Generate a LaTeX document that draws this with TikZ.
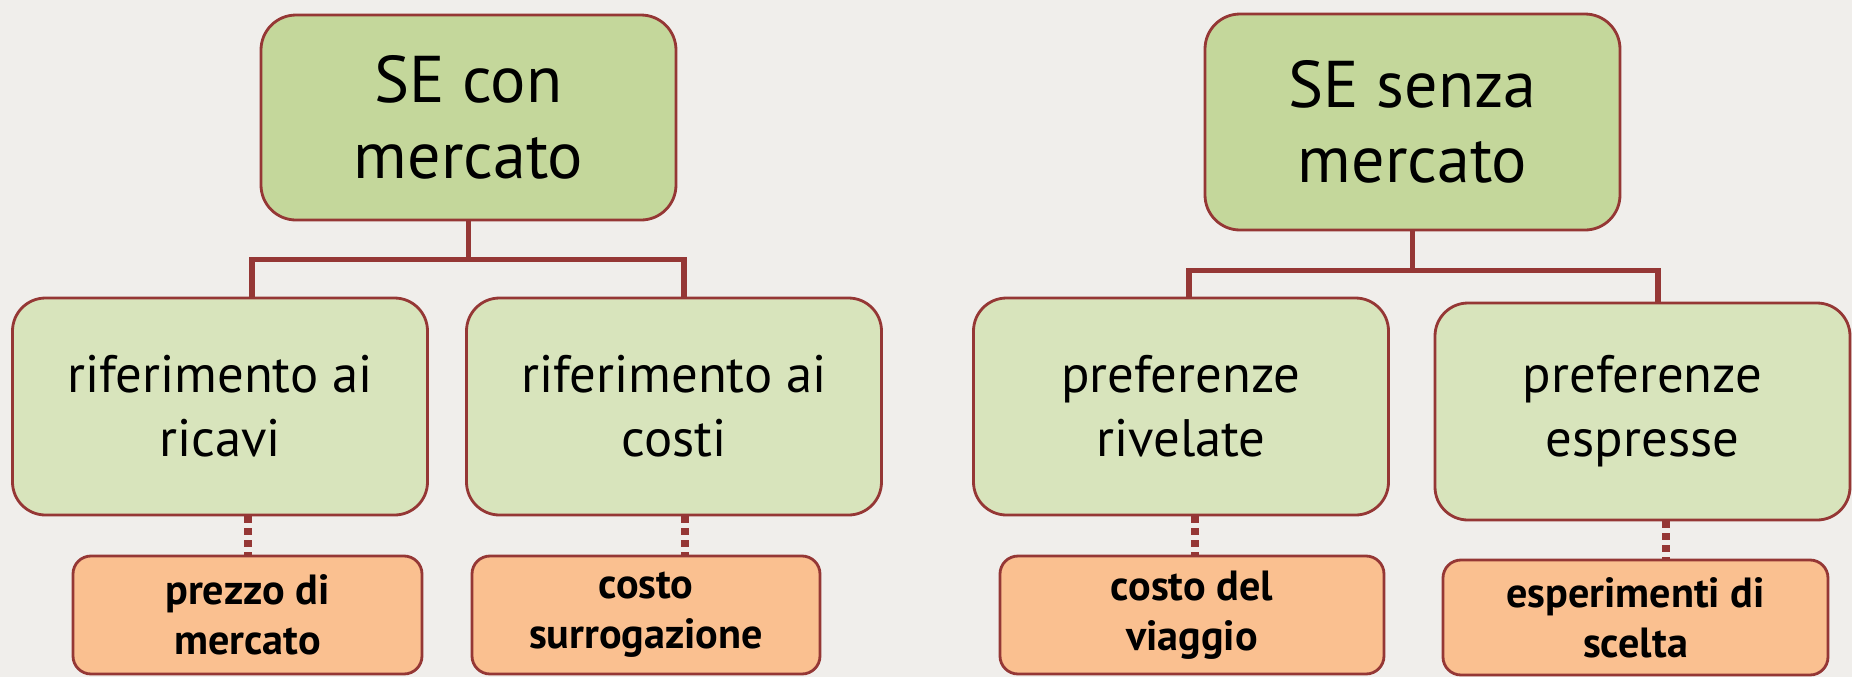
\documentclass[tikz,border=0pt]{standalone}
\usepackage{fontspec}
\setmainfont{PT Sans}
\usepackage{xcolor}
\usetikzlibrary{shapes,arrows,positioning,fit,backgrounds}

\definecolor{bordo}{RGB}{149,55,53}
\definecolor{verdescuro}{RGB}{196,215,155}
\definecolor{verdechiaro}{RGB}{216,228,188}
\definecolor{arancio}{RGB}{250,192,144}
\definecolor{sfondo}{RGB}{240,238,235}

\tikzset{
    radice/.style={draw=bordo, line width=0.8pt, fill=verdescuro, rounded corners=0.35cm,
        minimum width=4.15cm, minimum height=2.05cm, align=center,
        font=\fontsize{18.8}{21.5}\selectfont},
    ramo/.style={draw=bordo, line width=0.8pt, fill=verdechiaro, rounded corners=0.33cm,
        minimum width=4.15cm, minimum height=2.17cm, align=center,
        font=\fontsize{15}{18.2}\selectfont},
    esempio/.style={draw=bordo, line width=0.8pt, fill=arancio, rounded corners=0.18cm,
        minimum height=1.18cm, align=center,
        font=\bfseries\fontsize{12}{14.2}\selectfont},
    albero/.style={draw=bordo, line width=1.6pt},
    tratteggio/.style={draw=bordo, line width=2pt, dash pattern=on 1.8pt off 1.6pt}
}

\begin{document}
\begin{tikzpicture}
    % Background
    \fill[sfondo] (0,0) rectangle (18.52,6.77);
    \useasboundingbox (0,0) rectangle (18.52,6.77);

    % Top boxes
    \node[radice] (con) at (4.685,5.595) {SE con\\mercato};
    \node[radice, minimum height=2.16cm] (senza) at (14.125,5.55) {SE senza\\mercato};

    % Methods
    \node[ramo] (ricavi) at (2.20,2.705) {riferimento ai\\ricavi};
    \node[ramo] (costi) at (6.74,2.705) {riferimento ai\\costi};
    \node[ramo] (rivelate) at (11.81,2.705) {preferenze\\rivelate};
    \node[ramo] (espresse) at (16.425,2.655) {preferenze\\espresse};

    % Examples
    \node[esempio, minimum width=3.49cm] (prezzo) at (2.475,0.62) {prezzo di\\mercato};
    \node[esempio, minimum width=3.48cm] (surrog) at (6.46,0.62) {costo\\surrogazione};
    \node[esempio, minimum width=3.84cm] (viaggio) at (11.92,0.62) {costo del\\viaggio};
    \node[esempio, minimum width=3.85cm, minimum height=1.15cm] (scelta) at (16.355,0.595) {esperimenti di\\scelta};

    % Tree connectors
    \draw[albero] (con.south) -- ++(0,-0.38) -| ([xshift=0.32cm]ricavi.north);
    \draw[albero] (con.south) -- ++(0,-0.38) -| ([xshift=0.10cm]costi.north);
    \draw[albero] (senza.south) -- ++(0,-0.39) -| ([xshift=0.08cm]rivelate.north);
    \draw[albero] (senza.south) -- ++(0,-0.39) -| ([xshift=0.155cm]espresse.north);

    % Dashed links
    \draw[tratteggio] ([xshift=0.28cm]ricavi.south) -- ([xshift=0.28cm]ricavi.south |- prezzo.north);
    \draw[tratteggio] ([xshift=0.11cm]costi.south) -- ([xshift=0.11cm]costi.south |- surrog.north);
    \draw[tratteggio] ([xshift=0.14cm]rivelate.south) -- ([xshift=0.14cm]rivelate.south |- viaggio.north);
    \draw[tratteggio] ([xshift=0.235cm]espresse.south) -- ([xshift=0.235cm]espresse.south |- scelta.north);
\end{tikzpicture}
\end{document}
